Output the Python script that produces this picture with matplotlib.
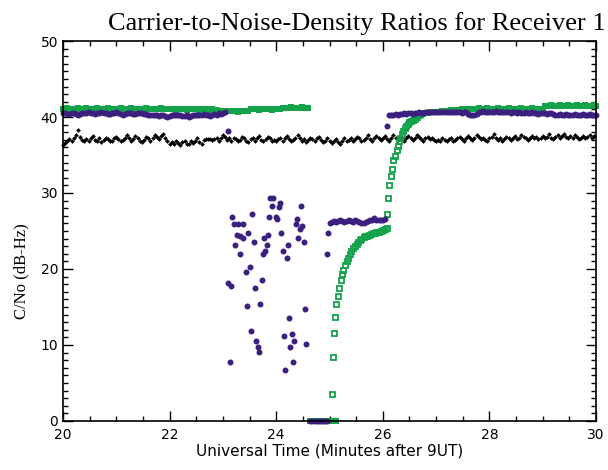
import numpy as np
import matplotlib
matplotlib.use("Agg")
import matplotlib.pyplot as plt
from matplotlib.ticker import MultipleLocator

# black series, 20.00 .. 29.96 every 0.04 min
black_t0, black_dt = 20.0, 0.04
black_cn = [
    36.3, 36.6, 36.9, 37.1, 36.8, 37.2, 37.6, 38.3, 37.4, 37.0, 36.8, 37.1, 36.9, 37.3, 37.5, 37.0, 36.9, 37.2, 36.7, 37.0, 37.3, 37.1, 36.8, 36.9, 37.2,
    37.4, 37.1, 36.8, 37.0, 37.3, 37.6, 37.2, 36.9, 37.1, 37.5, 37.3, 36.9, 36.7, 37.0, 37.4, 37.2, 36.9, 37.3, 37.6, 37.4, 37.1, 37.5, 37.8, 37.3, 36.9,
    36.5, 36.7, 36.4, 36.8, 36.6, 36.3, 36.7, 36.9, 36.5, 36.4, 36.8, 36.6, 36.9, 37.2, 36.7, 36.5, 37.0, 37.1, 37.1, 37.1, 37.0, 37.1, 37.2, 36.8, 37.3,
    37.6, 37.4, 37.0, 37.2, 36.9, 37.3, 37.1, 36.8, 37.0, 37.4, 37.2, 36.9, 36.7, 37.1, 37.3, 36.9, 37.2, 37.5, 37.0, 36.8, 37.1, 37.4, 37.2, 36.9, 37.0,
    36.8, 37.1, 37.3, 36.9, 37.2, 37.5, 37.1, 36.8, 37.0, 37.3, 37.6, 37.2, 36.9, 37.1, 36.7, 37.0, 37.3, 37.1, 36.8, 37.2, 37.4, 37.0, 36.7, 36.9, 37.2,
    36.9, 36.6, 36.8, 37.1, 36.7, 36.5, 36.9, 37.2, 36.8, 37.0, 37.3, 36.9, 37.1, 37.4, 37.2, 36.8, 37.0, 37.3, 37.6, 37.1, 36.9, 37.2, 37.5, 37.3, 37.0,
    37.2, 37.5, 37.1, 36.9, 37.3, 37.6, 37.2, 37.0, 37.4, 37.1, 36.8, 37.2, 37.5, 37.3, 37.0, 37.2, 37.6, 37.4, 37.1, 36.9, 37.2, 37.4, 37.1, 37.3, 37.0,
    36.8, 37.0, 36.9, 37.2, 37.0, 36.8, 37.1, 37.3, 36.9, 37.0, 37.2, 37.4, 37.1, 36.9, 37.3, 37.5, 37.2, 37.0, 37.3, 37.6, 37.4, 37.1, 37.3, 37.0, 36.9,
    37.2, 37.4, 37.8, 37.3, 37.0, 37.2, 36.9, 37.1, 37.4, 37.2, 37.0, 37.3, 37.5, 37.1, 37.3, 37.6, 37.4, 37.2, 37.0, 37.3, 37.5, 37.2, 37.4, 37.1, 37.3,
    37.5, 37.2, 37.4, 37.7, 37.3, 37.1, 37.4, 37.6, 37.3, 37.5, 37.8, 37.4, 37.2, 37.5, 37.3, 37.6, 37.4, 37.1, 37.3, 37.5, 37.2, 37.4, 37.6, 37.3, 37.5,
]

# green series: band before the outage, 20.00 .. 24.60 every 0.04
green_a_t0 = 20.0
green_a = [
    41.1, 41.1, 41.2, 41.1, 41.1, 41.0, 41.1, 41.2, 41.1, 41.1, 41.1, 41.2, 41.1, 41.0, 41.1, 41.1, 41.2, 41.1, 41.1, 41.1,
    41.1, 41.2, 41.1, 41.1, 41.0, 41.1, 41.1, 41.2, 41.1, 41.1, 41.1, 41.1, 41.2, 41.1, 41.1, 41.0, 41.1, 41.1, 41.1, 41.2,
    41.1, 41.1, 41.1, 41.0, 41.1, 41.1, 41.2, 41.1, 41.1, 41.1, 41.0, 41.0, 41.0, 40.9, 41.0, 41.0, 41.0, 41.0, 40.9, 41.0,
    41.0, 41.0, 41.0, 41.0, 40.9, 41.0, 41.0, 41.0, 40.9, 41.0, 41.0, 40.9, 40.9, 40.8, 40.8, 40.8, 40.7, 40.8, 40.8, 40.8,
    40.8, 40.8, 40.7, 40.8, 40.8, 40.8, 40.8, 40.8, 41.0, 41.0, 41.0, 41.0, 40.9, 41.0, 41.0, 41.0, 41.0, 41.0, 40.9, 41.0,
    41.0, 41.0, 41.1, 41.2, 41.2, 41.2, 41.2, 41.3, 41.2, 41.2, 41.2, 41.2, 41.3, 41.2, 41.2, 41.2,
]
# green outage at zero
green_zero_t = [24.64, 24.68, 24.72, 24.76, 24.80, 24.84, 24.88, 24.92, 24.96, 25.00, 25.04, 25.08, 25.12]
green_zero = [0.0] * len(green_zero_t)
# green recovery (read point by point)
green_rec_t = [25.04, 25.06, 25.08, 25.11, 25.13, 25.16, 25.18, 25.21, 25.23, 25.26, 25.29, 25.32, 25.35, 25.38,
               25.41, 25.45, 25.48, 25.51, 25.54, 25.57, 25.60, 25.64, 25.67, 25.70, 25.74, 25.77, 25.81, 25.85,
               25.88, 25.92, 25.96, 26.00, 26.04, 26.07, 26.08, 26.10, 26.12, 26.15, 26.17, 26.20, 26.23, 26.26,
               26.28, 26.31, 26.33, 26.36, 26.38, 26.41, 26.44, 26.47, 26.50, 26.53, 26.56, 26.60, 26.64, 26.68]
green_rec = [3.5, 8.4, 11.6, 13.7, 15.4, 16.4, 17.5, 18.5, 19.3, 19.9, 20.5, 21.0, 21.5, 22.0,
             22.4, 22.7, 23.0, 23.3, 23.6, 23.8, 24.0, 24.2, 24.3, 24.4, 24.5, 24.6, 24.7, 24.8,
             24.9, 24.9, 25.0, 25.1, 25.2, 25.4, 27.2, 29.4, 31.1, 32.2, 33.2, 34.3, 34.9, 35.7,
             36.2, 36.8, 37.3, 37.8, 38.2, 38.5, 38.8, 39.1, 39.3, 39.5, 39.6, 39.8, 40.0, 40.2]
# green band after recovery, 26.72 .. 30.00 every 0.04
green_b_t0 = 26.72
green_b = [
    40.3, 40.4, 40.5, 40.5, 40.6, 40.6, 40.6, 40.7, 40.7, 40.7, 40.8, 40.8, 40.8, 40.8, 40.9, 40.9, 40.9, 40.9, 40.9, 41.0,
    41.0, 41.0, 41.1, 41.1, 41.1, 41.1, 41.1, 41.2, 41.1, 41.1, 41.1, 41.2, 41.1, 41.1, 41.1, 41.1, 41.2, 41.1, 41.1, 41.1,
    41.1, 41.2, 41.1, 41.1, 41.1, 41.1, 41.1, 41.2, 41.1, 41.1, 41.1, 41.1, 41.2, 41.1, 41.1, 41.1, 41.1, 41.1, 41.5, 41.5,
    41.5, 41.6, 41.5, 41.5, 41.5, 41.6, 41.5, 41.5, 41.5, 41.6, 41.5, 41.5, 41.5, 41.6, 41.5, 41.5, 41.5, 41.6, 41.5, 41.5,
    41.5, 41.6, 41.5,
]

# purple series: band before the outage, 20.00 .. 23.04 every 0.04
purple_a_t0 = 20.0
purple_a = [
    40.5, 40.5, 40.4, 40.4, 40.5, 40.5, 40.4, 40.3, 40.4, 40.5, 40.5, 40.5, 40.6, 40.5, 40.5, 40.4, 40.5, 40.5, 40.6, 40.5,
    40.5, 40.4, 40.4, 40.5, 40.5, 40.6, 40.5, 40.4, 40.3, 40.4, 40.5, 40.5, 40.5, 40.4, 40.4, 40.5, 40.5, 40.5, 40.4, 40.4,
    40.3, 40.3, 40.2, 40.2, 40.2, 40.1, 40.2, 40.2, 40.1, 40.0, 40.1, 40.2, 40.2, 40.2, 40.3, 40.2, 40.1, 40.1, 40.2, 40.0,
    40.1, 40.2, 40.2, 40.3, 40.3, 40.2, 40.4, 40.3, 40.2, 40.1, 40.3, 40.4, 40.3, 40.5, 40.4, 40.5, 40.6,
]
# purple scatter during the fade
purple_sc_t = [23.10, 23.88, 23.94, 23.92, 24.07, 24.05, 24.47, 23.17, 23.55, 23.86, 24.00, 24.01, 24.39,
               23.21, 23.28, 23.38, 24.37, 24.48, 24.45, 23.47, 24.09, 23.26, 23.32, 23.38, 23.77,
               23.85, 24.41, 23.58, 23.23, 23.83, 24.22, 24.52, 24.13, 23.79, 23.75, 23.32, 24.20,
               23.51, 23.43, 23.10, 23.15, 23.73, 23.60, 23.45, 23.70, 24.54, 24.24, 23.53, 24.15,
               24.30, 23.62, 23.66, 23.68, 24.26, 24.33, 24.56, 23.13, 24.32, 24.17, 24.97, 24.95]
purple_sc = [38.2, 29.4, 29.3, 28.3, 28.7, 28.2, 28.3, 26.9, 27.3, 26.9, 26.9, 26.6, 26.6,
             25.9, 25.9, 25.9, 25.9, 25.6, 25.2, 24.8, 24.8, 24.5, 24.3, 24.1, 24.1,
             24.5, 24.1, 23.5, 23.1, 23.1, 23.1, 23.5, 22.4, 22.4, 22.0, 22.0, 21.4,
             20.3, 19.6, 18.2, 17.8, 18.5, 17.5, 15.1, 15.4, 14.7, 13.6, 11.9, 11.2,
             11.5, 10.5, 9.8, 9.1, 9.8, 10.5, 10.1, 7.7, 7.7, 6.7, 24.8, 22.0]
purple_zero_t = [24.64, 24.68, 24.72, 24.76, 24.80, 24.84, 24.88, 24.92, 24.96]
purple_zero = [0.0] * len(purple_zero_t)
# purple plateau near 26 dB-Hz, 25.00 .. 26.04 every 0.04
purple_p_t0 = 25.0
purple_p = [26.1, 26.2, 26.3, 26.2, 26.3, 26.4, 26.3, 26.2, 26.3, 26.4, 26.3, 26.2, 26.4, 26.3,
            26.2, 26.1, 26.0, 26.2, 26.3, 26.5, 26.4, 26.7, 26.5, 26.4, 26.5, 26.5, 26.6]
# purple after recovery, 26.08 .. 30.00 every 0.04
purple_b_t0 = 26.08
purple_b = [
    38.8, 40.2, 40.3, 40.3, 40.4, 40.3, 40.4, 40.4, 40.5, 40.4, 40.5, 40.5, 40.4, 40.5, 40.5, 40.6, 40.5, 40.5, 40.6, 40.6,
    40.6, 40.6, 40.7, 40.6, 40.6, 40.7, 40.7, 40.6, 40.7, 40.7, 40.6, 40.6, 40.7, 40.6, 40.6, 40.5, 40.6, 40.6, 40.4, 40.3,
    40.2, 40.3, 40.4, 40.6, 40.7, 40.8, 40.7, 40.6, 40.7, 40.6, 40.7, 40.8, 40.7, 40.6, 40.6, 40.7, 40.6, 40.6, 40.5, 40.6,
    40.6, 40.5, 40.6, 40.5, 40.5, 40.6, 40.5, 40.5, 40.6, 40.5, 40.5, 40.4, 40.5, 40.5, 40.5, 40.4, 40.5, 40.5, 40.4, 40.3,
    40.3, 40.4, 40.3, 40.3, 40.4, 40.3, 40.3, 40.3, 40.4, 40.3, 40.3, 40.3, 40.4, 40.3, 40.3, 40.4, 40.3, 40.3, 40.3,
]

col_green = '#14a24a'
col_purple = '#3d1f80'


def times(t0, vals, dt=0.04):
    return t0 + dt * np.arange(len(vals))


fig = plt.figure(figsize=(6.08, 4.70), dpi=100)
ax = fig.add_axes([63/608, 49/470, 533/608, 380/470])

ax.plot(times(black_t0, black_cn), black_cn, ls='none', marker='D', ms=2.4, color='k', mew=0, clip_on=False)

# dense runs read as solid; sparse recovery points show the open squares
gband = dict(ls='none', marker='s', ms=4.0, color=col_green, mew=0, clip_on=False)
gkw = dict(ls='none', marker='s', ms=3.6, mfc='none', mec=col_green, mew=1.3, clip_on=False)
ax.plot(times(green_a_t0, green_a), green_a, **gband)
ax.plot(green_zero_t, green_zero, **gband)
ax.plot(green_rec_t, green_rec, **gkw)
ax.plot(times(green_b_t0, green_b), green_b, **gband)

pkw = dict(ls='none', marker='o', ms=4.3, color=col_purple, mew=0, clip_on=False)
ax.plot(times(purple_a_t0, purple_a), purple_a, **pkw)
ax.plot(purple_sc_t, purple_sc, **pkw)
ax.plot(purple_zero_t, purple_zero, **pkw)
ax.plot(times(purple_p_t0, purple_p), purple_p, **pkw)
ax.plot(times(purple_b_t0, purple_b), purple_b, **pkw)

ax.set_xlim(20, 30)
ax.set_ylim(0, 50)
ax.xaxis.set_major_locator(MultipleLocator(2))
ax.xaxis.set_minor_locator(MultipleLocator(0.5))
ax.yaxis.set_major_locator(MultipleLocator(10))
ax.yaxis.set_minor_locator(MultipleLocator(1))
ax.tick_params(which='both', direction='in', top=True, right=True, width=1.0, labelsize=10)
ax.tick_params(which='major', length=7)
ax.tick_params(which='minor', length=3.5)
ax.tick_params(axis='x', pad=5)
for s in ax.spines.values():
    s.set_linewidth(1.2)

ax.set_xlabel('Universal Time (Minutes after 9UT)', fontsize=11, labelpad=1)
fig.text(21/608, 1 - 271/470, 'C/No (dB-Hz)', rotation=90, ha='center', va='center',
         fontsize=12, family='Liberation Serif')
fig.text(357/608, 1 - 30/470, 'Carrier-to-Noise-Density Ratios for Receiver 1', ha='center',
         va='baseline', fontsize=19, family='Liberation Serif')

fig.savefig('out.png', dpi=100)
